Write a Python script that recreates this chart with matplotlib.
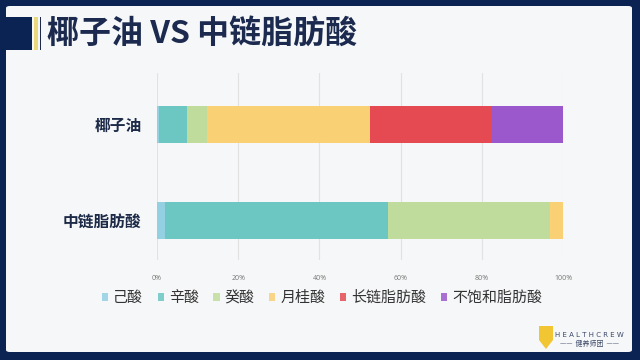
import matplotlib
matplotlib.use("Agg")
import matplotlib.pyplot as plt
from matplotlib.patches import Rectangle, FancyBboxPatch, Polygon
import numpy as np

plt.rcParams['font.family'] = ['Noto Sans CJK SC', 'DejaVu Sans']

categories = ["椰子油", "中链脂肪酸"]
series_names = ["己酸", "辛酸", "癸酸", "月桂酸", "长链脂肪酸", "不饱和脂肪酸"]
values = {
    "己酸":       [0.5, 2.0],
    "辛酸":       [7.0, 55.0],
    "癸酸":       [4.7, 39.8],
    "月桂酸":     [40.3, 3.2],
    "长链脂肪酸": [30.0, 0.0],
    "不饱和脂肪酸": [17.5, 0.0],
}
colors = ["#93d0e2", "#6cc7c3", "#c0dc9c", "#f9d074", "#e54a52", "#9b58cc"]
xticks = [0, 20, 40, 60, 80, 100]
xtick_labels = ["0%", "20%", "40%", "60%", "80%", "100%"]
title = "椰子油 VS 中链脂肪酸"

W, H = 640, 360
NAVY = "#0b2352"
fig = plt.figure(figsize=(6.4, 3.6), dpi=100, facecolor=NAVY)

def px(x0, y0, x1, y1):
    return (x0 / W, 1 - y1 / H, (x1 - x0) / W, (y1 - y0) / H)

# panel
l, b, w, h = px(6, 6, 632, 352)
fig.patches.append(FancyBboxPatch((l, b), w, h, boxstyle="round,pad=0,rounding_size=0.006",
                                  transform=fig.transFigure, facecolor="#f6f7f8",
                                  edgecolor="none", zorder=-2))
# title decorations
l, b, w, h = px(6, 17, 32, 50)
fig.patches.append(Rectangle((l, b), w, h, transform=fig.transFigure, facecolor=NAVY, edgecolor="none", zorder=-1))
l, b, w, h = px(34, 17, 38, 50)
fig.patches.append(Rectangle((l, b), w, h, transform=fig.transFigure, facecolor="#ead97c", edgecolor="none", zorder=-1))
l, b, w, h = px(39.5, 17, 41, 50)
fig.patches.append(Rectangle((l, b), w, h, transform=fig.transFigure, facecolor="#1d2b4a", edgecolor="none", zorder=-1))

fig.text(47 / W, 1 - 34 / H, title, fontsize=23, fontweight="bold", color="#1b2a4e",
         va="center", ha="left")

# axes
ax = fig.add_axes(px(157, 73, 563, 260))
ax.set_zorder(3)
ax.set_facecolor("none")
y = np.arange(len(categories))
left = np.zeros(len(categories))
for name, c in zip(series_names, colors):
    v = np.array(values[name])
    ax.barh(y, v, left=left, height=0.39, color=c, label=name, zorder=3)
    left += v
ax.set_xlim(0, 100)
ax.set_ylim(1.412, -0.536)
ax.set_xticks(xticks)
ax.set_xticklabels(xtick_labels, fontsize=5, color="#777777", family=["Open Sans", "DejaVu Sans"])
ax.set_yticks(y)
ax.set_yticklabels(categories, fontsize=11.3, fontweight="bold", color="#1c2a48")
ax.tick_params(axis="x", length=0, pad=11)
ax.tick_params(axis="y", length=0, pad=11)
ax.grid(axis="x", color="#e2e2e2", linewidth=0.8, zorder=0)
for s in ax.spines.values():
    s.set_visible(False)

handles, labels = ax.get_legend_handles_labels()
leg = fig.legend(handles, labels, loc="center", bbox_to_anchor=(322 / W, 1 - 298 / H),
                 ncol=6, frameon=False, fontsize=10.8, handlelength=0.42, handleheight=0.42,
                 handletextpad=0.35, columnspacing=0.95, labelcolor="#333333")
for hnd in leg.legend_handles:
    hnd.set_alpha(0.85)

# logo
shield = Polygon([(539 / W, 1 - 326 / H), (553 / W, 1 - 326 / H), (553 / W, 1 - 340 / H),
                  (546 / W, 1 - 349 / H), (539 / W, 1 - 340 / H)], closed=True,
                 transform=fig.transFigure, facecolor="#f2c532", edgecolor="none", zorder=2)
fig.patches.append(shield)
fig.text(589 / W, 1 - 335 / H, "H E A L T H C R E W", fontsize=5.0, color="#3b4868", ha="center", va="center",
         family=["DejaVu Sans"])
fig.text(589 / W, 1 - 343.5 / H, "——  健养师团  ——", fontsize=5, color="#3b4868", ha="center", va="center")

fig.savefig("out.png", dpi=100, facecolor=NAVY)
